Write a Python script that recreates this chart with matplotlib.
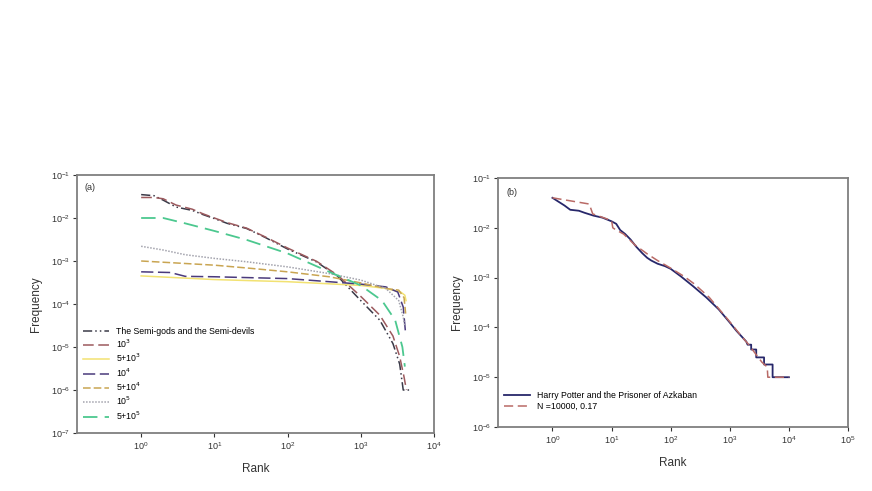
import matplotlib
matplotlib.use("Agg")
import matplotlib.pyplot as plt

# ---- panel (a): rank / frequency of the book and the simulated series ----
book_rank = [1, 1.5, 2, 3, 5, 7, 10, 15, 27.6, 50, 100, 250, 490, 1000, 1820, 2750, 3400, 3800, 4650]
book_freq = [3.5e-2, 3.3e-2, 2.6e-2, 1.8e-2, 1.5e-2, 1.2e-2, 9.7e-3, 7.5e-3, 5.7e-3, 3.5e-3, 1.9e-3, 9.5e-4, 4.3e-4, 1.2e-4, 4.2e-5, 1.2e-5, 4e-6, 1e-6, 1e-6]

n1e3_rank = [1, 1.5, 2, 3, 5, 7, 10, 15, 27.6, 50, 100, 250, 490, 1000, 1820, 2750, 3400, 3900, 4200]
n1e3_freq = [3.0e-2, 3.0e-2, 2.8e-2, 2.0e-2, 1.6e-2, 1.25e-2, 1.0e-2, 7.8e-3, 5.8e-3, 3.6e-3, 2.0e-3, 9.8e-4, 4.6e-4, 1.5e-4, 5.5e-5, 1.8e-5, 6e-6, 2e-6, 1e-6]

n5e3_rank = [1, 3, 10, 30, 100, 300, 1000, 2200, 3500, 4000, 4150]
n5e3_freq = [4.5e-4, 4.1e-4, 3.7e-4, 3.5e-4, 3.3e-4, 3.0e-4, 2.7e-4, 2.3e-4, 1.9e-4, 1.6e-4, 1.2e-4]

n1e4_rank = [1, 2.5, 4, 10, 30, 100, 370, 1000, 2200, 3200, 3800, 4100]
n1e4_freq = [5.6e-4, 5.4e-4, 4.4e-4, 4.3e-4, 4.1e-4, 3.9e-4, 3.3e-4, 2.9e-4, 2.5e-4, 1.9e-4, 8.5e-5, 2e-5]

n5e4_rank = [1, 3, 10, 30, 100, 370, 1000, 2200, 3300, 3900, 4100]
n5e4_freq = [1.0e-3, 9.0e-4, 8.0e-4, 6.8e-4, 5.6e-4, 4.3e-4, 3.1e-4, 2.3e-4, 2.1e-4, 1.4e-4, 6e-5]

n1e5_rank = [1, 2, 4, 10, 27.6, 100, 370, 1000, 2200, 3300, 3800, 4000]
n1e5_freq = [2.2e-3, 1.8e-3, 1.4e-3, 1.15e-3, 9.6e-4, 7.3e-4, 5.1e-4, 3.6e-4, 2.3e-4, 1.2e-4, 5e-5, 3e-5]

n5e5_rank = [1, 2, 4, 10, 27.6, 100, 370, 1000, 1950, 2950, 3700, 4000]
n5e5_freq = [1.0e-2, 1.0e-2, 7.5e-3, 5.0e-3, 3.1e-3, 1.5e-3, 5.6e-4, 2.7e-4, 1.2e-4, 4.2e-5, 1e-5, 3.5e-6]

labels_a = ["The Semi-gods and the Semi-devils", "10$^3$", "5+10$^3$", "10$^4$",
            "5+10$^4$", "10$^5$", "5+10$^5$"]

# ---- panel (b): Harry Potter vs model ----
hp_rank = [1, 1.6, 2, 2.8, 3.5, 5, 7, 10, 12, 14, 17, 21, 26, 33, 40, 47, 60, 80, 100, 150, 240, 400,
           650, 1000, 1300, 1600, 1900, 2000, 2300, 2300, 2800, 2800, 3800, 3800, 5300, 5300, 10000]
hp_freq = [4e-2, 2.8e-2, 2.3e-2, 2.2e-2, 2.0e-2, 1.75e-2, 1.6e-2, 1.35e-2, 1.2e-2, 9e-3, 7.5e-3, 5.8e-3, 4.2e-3, 3.1e-3, 2.5e-3, 2.2e-3, 1.9e-3, 1.7e-3, 1.5e-3, 1.05e-3, 6.7e-4, 4.0e-4,
           2.3e-4, 1.25e-4, 8.5e-5, 6.5e-5, 5.2e-5, 4.5e-5, 4.5e-5, 3.6e-5, 3.6e-5, 2.5e-5, 2.5e-5, 1.8e-5, 1.8e-5, 1e-5, 1e-5]

model_rank = [1, 4.2, 4.8, 10, 10.5, 12, 16, 25, 40, 60, 100, 170, 250, 450, 1000, 1600, 2100, 2700, 3500, 4300, 4400, 10000]
model_freq = [4e-2, 3e-2, 1.9e-2, 1.4e-2, 1.0e-2, 9.0e-3, 7.5e-3, 4.5e-3, 3.0e-3, 2.2e-3, 1.55e-3, 1.05e-3, 7.5e-4, 4.0e-4, 1.3e-4, 6.5e-5, 4.5e-5, 3.0e-5, 2.0e-5, 1.6e-5, 1e-5, 1e-5]

labels_b = ["Harry Potter and the Prisoner of Azkaban", "N =10000, 0.17"]

fig = plt.figure(figsize=(8.72, 4.91), dpi=100)
plt.rcParams['font.family'] = ['Liberation Sans', 'DejaVu Sans']
frame_col = "#7f7f7f"


def style_axes(ax):
    for s in ax.spines.values():
        s.set_color(frame_col)
        s.set_linewidth(1.3)
    ax.tick_params(which='major', direction='out', length=3, width=0.8,
                   colors='#333333', labelsize=6.5, pad=2)
    ax.tick_params(which='minor', length=0)
    ax.set_xlabel("Rank", fontsize=8.5, color='#333333', labelpad=8)
    ax.set_ylabel("Frequency", fontsize=8.5, color='#333333', labelpad=6)


ax1 = fig.add_axes([0.0883, 0.1181, 0.4094, 0.5255])
ax1.loglog(book_rank, book_freq, color='#3a3a48', ls=(0, (6, 2, 1, 2, 1, 2)), lw=1.1, label=labels_a[0])
ax1.loglog(n1e3_rank, n1e3_freq, color='#9c5a5e', ls=(0, (7, 3)), lw=1.1, label=labels_a[1])
ax1.loglog(n5e3_rank, n5e3_freq, color='#f2e272', ls='-', lw=1.1, label=labels_a[2])
ax1.loglog(n1e4_rank, n1e4_freq, color='#4a3a7c', ls=(0, (8, 3)), lw=1.1, label=labels_a[3])
ax1.loglog(n5e4_rank, n5e4_freq, color='#c9a552', ls=(0, (5, 2)), lw=1.1, label=labels_a[4])
ax1.loglog(n1e5_rank, n1e5_freq, color='#a3a3ad', ls=(0, (1, 1)), lw=1.1, label=labels_a[5])
ax1.loglog(n5e5_rank, n5e5_freq, color='#4cc88f', ls=(0, (8, 4)), lw=1.3, label=labels_a[6])
ax1.set_xlim(0.133, 1e4)
ax1.set_ylim(1e-7, 1e-1)
ax1.set_xticks([1, 10, 100, 1000, 10000])
ax1.set_yticks([1e-7, 1e-6, 1e-5, 1e-4, 1e-3, 1e-2, 1e-1])
style_axes(ax1)
ax1.text(0.02, 0.97, "(a)", transform=ax1.transAxes, fontsize=6.5, va='top', ha='left', color='#333333')
ax1.legend(loc='lower left', bbox_to_anchor=(0.0, 0.02), frameon=False, fontsize=6.3,
           handlelength=3.0, handletextpad=0.8, labelspacing=0.22, borderaxespad=0.3)

ax2 = fig.add_axes([0.5711, 0.1303, 0.4014, 0.5072])
ax2.loglog(hp_rank, hp_freq, color='#27276a', ls='-', lw=1.3, label=labels_b[0])
ax2.loglog(model_rank, model_freq, color='#b96a66', ls=(0, (6, 3)), lw=1.1, label=labels_b[1])
ax2.set_xlim(0.12, 1e5)
ax2.set_ylim(1e-6, 1e-1)
ax2.set_xticks([1, 10, 100, 1000, 10000, 100000])
ax2.set_yticks([1e-6, 1e-5, 1e-4, 1e-3, 1e-2, 1e-1])
style_axes(ax2)
ax2.text(0.025, 0.96, "(b)", transform=ax2.transAxes, fontsize=6.5, va='top', ha='left', color='#333333')
ax2.legend(loc='lower left', bbox_to_anchor=(0.0, 0.04), frameon=False, fontsize=6.3,
           handlelength=3.0, handletextpad=0.8, labelspacing=0.25, borderaxespad=0.3)

fig.savefig("out.png", dpi=100)
